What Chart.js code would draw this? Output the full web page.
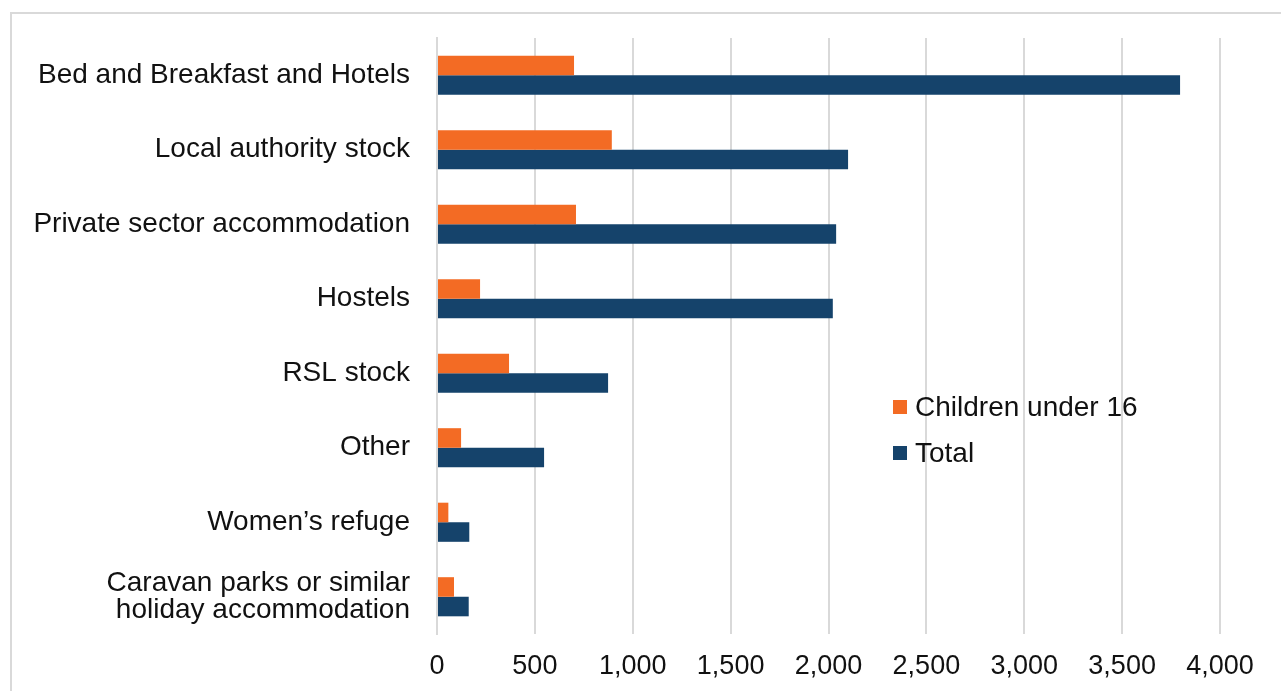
<!DOCTYPE html>
<html>
<head>
<meta charset="utf-8">
<script src="https://cdn.jsdelivr.net/npm/chart.js@4/dist/chart.umd.min.js"></script>
<style>
  html, body { margin: 0; padding: 0; background: #fff; overflow: hidden; }
  #wrap { position: relative; width: 1281px; height: 691px; }
  #frame { position: absolute; left: 10px; top: 12px; width: 1300px; height: 700px; border: 2px solid #d9d9d9; box-sizing: border-box; }
  canvas { position: absolute; left: 0; top: 0; }
</style>
</head>
<body>
<div id="wrap">
  <div id="frame"></div>
  <canvas id="chart" width="1281" height="691"></canvas>
</div>
<script>
var categories = [
    "Bed and Breakfast and Hotels",
    "Local authority stock",
    "Private sector accommodation",
    "Hostels",
    "RSL stock",
    "Other",
    "Women\u2019s refuge",
    ["Caravan parks or similar", "holiday accommodation"]
];
var children = [700, 893, 710, 220, 368, 123, 58, 87];
var total = [3796, 2100, 2039, 2022, 874, 547, 165, 162];
var xTicks = [0, 500, 1000, 1500, 2000, 2500, 3000, 3500, 4000];

var orange = '#f36b24';
var navy = '#15436b';
var font = "'Liberation Sans', Arial, sans-serif";

// legend drawn inside the plot, like the original
var insideLegend = {
    id: 'insideLegend',
    afterDraw: function(chart) {
        var ctx = chart.ctx;
        var x = 893, y = 407;
        ctx.save();
        ctx.font = '28px ' + font;
        ctx.textBaseline = 'middle';
        chart.data.datasets.forEach(function(ds, i) {
            var yy = y + i * 46;
            ctx.fillStyle = ds.backgroundColor;
            ctx.fillRect(x, yy - 7, 14, 14);
            ctx.fillStyle = '#111';
            ctx.fillText(ds.label, x + 22, yy + 1);
        });
        ctx.restore();
    }
};

var ctx = document.getElementById("chart");
var chart = new Chart(ctx, {
    type: 'bar',
    plugins: [insideLegend],
    data: {
        labels: categories,
        datasets: [
            {
                label: 'Children under 16',
                data: children,
                backgroundColor: orange,
                categoryPercentage: 0.525,
                barPercentage: 1.0
            },
            {
                label: 'Total',
                data: total,
                backgroundColor: navy,
                categoryPercentage: 0.525,
                barPercentage: 1.0
            }
        ]
    },
    options: {
        indexAxis: 'y',
        responsive: false,
        animation: false,
        layout: { padding: { top: 38, right: 61, left: 0, bottom: 0 } },
        plugins: {
            legend: { display: false },
            tooltip: { enabled: false }
        },
        scales: {
            x: {
                min: 0,
                max: 4000,
                afterBuildTicks: function(scale) {
                    scale.ticks = xTicks.map(function(v) { return { value: v }; });
                },
                afterFit: function(scale) { scale.height = 57; },
                grid: { color: '#d9d9d9', lineWidth: 2, drawTicks: false },
                border: { display: false },
                ticks: {
                    padding: 16,
                    color: '#111',
                    font: { family: font, size: 27 },
                    callback: function(v) { return v.toLocaleString('en-US'); }
                }
            },
            y: {
                afterFit: function(scale) {
                    scale.width = 437;
                    scale.paddingTop = 0;
                    scale.paddingBottom = 0;
                },
                grid: { display: false, drawTicks: false },
                border: { display: true, color: '#d9d9d9', width: 2 },
                ticks: {
                    padding: 27,
                    color: '#111',
                    font: { family: font, size: 28, lineHeight: 0.95 }
                }
            }
        }
    }
});
</script>
</body>
</html>
